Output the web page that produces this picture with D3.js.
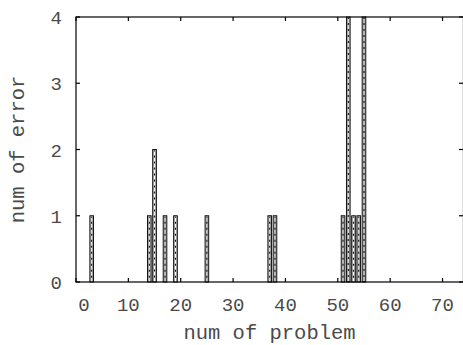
<!DOCTYPE html>
<html>
<head>
<meta charset="utf-8">
<script src="https://cdn.jsdelivr.net/npm/d3@7"></script>
<style>
  body { margin: 0; background: #fff; }
  text { font-family: "Liberation Mono", "DejaVu Sans Mono", monospace; fill: #4a4a4a; }
</style>
</head>
<body>
<div id="chart"></div>
<script>
// problem numbers that had errors, and how many
const problems = [3, 14, 15, 17, 19, 25, 37, 38, 51, 52, 53, 54, 55];
const errors   = [1, 1, 2, 1, 1, 1, 1, 1, 1, 4, 1, 1, 4];
const xTicks = [0, 10, 20, 30, 40, 50, 60, 70];
const yTicks = [0, 1, 2, 3, 4];

const width = 463, height = 345;
const plotLeft = 76, plotTop = 17, plotBottom = 282;

const svg = d3.select('#chart').append('svg')
    .attr('width', width)
    .attr('height', height);

const x = d3.scaleLinear().domain([0, 74]).range([plotLeft, plotLeft + 74 * 5.236]);
const y = d3.scaleLinear().domain([0, 4]).range([plotBottom, plotTop]);
const plotRight = x(74);

// bar pattern (gnuplot style fill)
const barW = x(0.7) - x(0);
const bars = svg.append('g');
problems.forEach((p, i) => {
    const x0 = x(p) - barW / 2;
    bars.append('rect')
        .attr('x', x0)
        .attr('y', y(errors[i]))
        .attr('width', barW)
        .attr('height', y(0) - y(errors[i]))
        .attr('fill', '#b4b4b4')
        .attr('stroke', '#000')
        .attr('stroke-width', 0.9);
    bars.append('line')
        .attr('x1', x(p)).attr('x2', x(p))
        .attr('y1', y(errors[i]) + 1).attr('y2', y(0))
        .attr('stroke', '#111')
        .attr('stroke-width', 1.1);
    bars.append('line')
        .attr('x1', x(p)).attr('x2', x(p))
        .attr('y1', y(errors[i]) + 2).attr('y2', y(0))
        .attr('stroke', '#fff')
        .attr('stroke-width', 1.1)
        .attr('stroke-dasharray', '4,2');
});

// axes with inward ticks
const tick = 4;
const axisG = svg.append('g').attr('stroke', '#000').attr('stroke-width', 1.2);

axisG.append('rect')
    .attr('x', plotLeft).attr('y', plotTop)
    .attr('width', plotRight - plotLeft).attr('height', plotBottom - plotTop)
    .attr('fill', 'none');

xTicks.forEach(t => {
    axisG.append('line').attr('x1', x(t)).attr('x2', x(t)).attr('y1', plotBottom).attr('y2', plotBottom - tick);
    axisG.append('line').attr('x1', x(t)).attr('x2', x(t)).attr('y1', plotTop).attr('y2', plotTop + tick);
});
yTicks.forEach(t => {
    axisG.append('line').attr('x1', plotLeft).attr('x2', plotLeft + tick).attr('y1', y(t)).attr('y2', y(t));
    axisG.append('line').attr('x1', width).attr('x2', width - tick).attr('y1', y(t)).attr('y2', y(t));
});

// tick labels
svg.append('g').selectAll('text')
    .data(xTicks)
    .join('text')
    .attr('x', d => x(d) + (d === 0 ? 8 : 0))
    .attr('y', 311)
    .attr('text-anchor', 'middle')
    .attr('font-size', 19)
    .text(d => d);

svg.append('g').selectAll('text')
    .data(yTicks)
    .join('text')
    .attr('x', 62)
    .attr('y', d => y(d) + 7)
    .attr('text-anchor', 'end')
    .attr('font-size', 19)
    .text(d => d);

// axis titles
svg.append('text')
    .attr('x', (plotLeft + width) / 2)
    .attr('y', 339)
    .attr('text-anchor', 'middle')
    .attr('font-size', 20.5)
    .text('num of problem');

svg.append('text')
    .attr('transform', `translate(24, ${(plotTop + plotBottom) / 2}) rotate(-90)`)
    .attr('text-anchor', 'middle')
    .attr('font-size', 20.5)
    .text('num of error');
</script>
</body>
</html>
